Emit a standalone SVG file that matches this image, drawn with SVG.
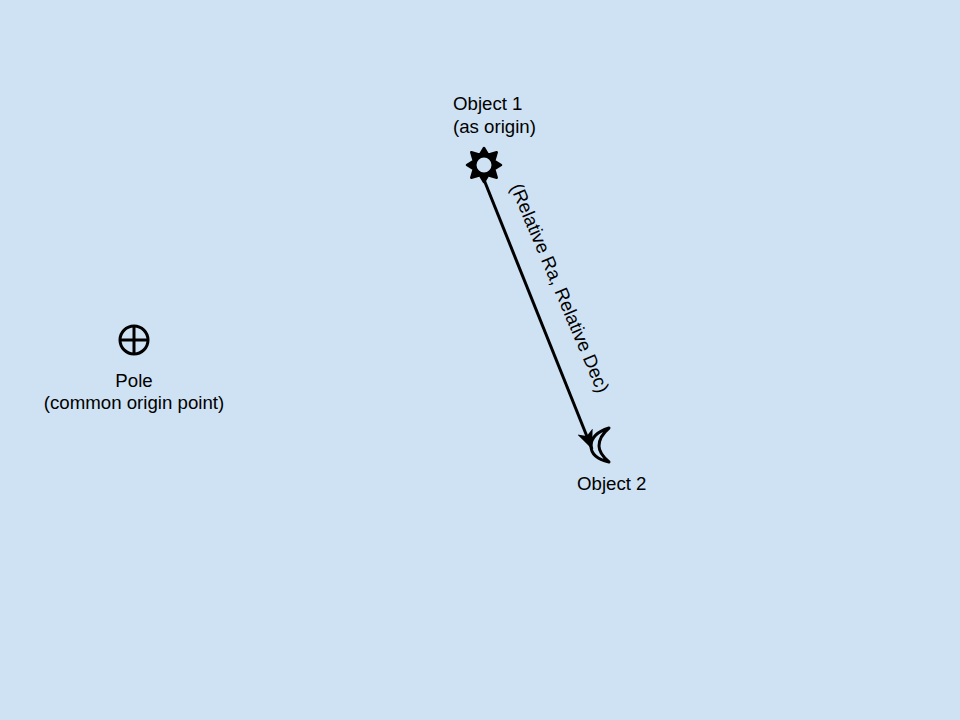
<svg xmlns="http://www.w3.org/2000/svg" width="960" height="720" viewBox="0 0 960 720">
<defs>
<style>
text{font-family:"Liberation Sans",Arial,sans-serif;font-size:18.67px;fill:#000}
.s{stroke:#000;fill:none;stroke-width:3}
</style>
<marker id="arr" markerUnits="userSpaceOnUse" markerWidth="20" markerHeight="20" refX="16" refY="7" orient="auto" viewBox="0 0 17 14"><path d="M0 0L16 7L0 14L4 7Z" fill="#000"/></marker>
</defs>
<rect width="960" height="720" fill="#cfe2f3"/>
<g id="pole">
<circle class="s" cx="134" cy="340" r="14"/>
<path class="s" d="M120 340H148M134 326V354"/>
<text x="134" y="387" text-anchor="middle">Pole</text>
<text x="134" y="409" text-anchor="middle">(common origin point)</text>
</g>
<g id="object1">
<path d="M484 148L488.200 154.800L496.700 152.300L494.200 160.800L501 165L494.200 169.200L496.700 177.700L488.200 175.200L484 182L479.800 175.200L471.300 177.700L473.800 169.200L467 165L473.800 160.800L471.300 152.300L479.800 154.800Z" fill="#000" stroke="#000" stroke-width="2.500" stroke-linejoin="round"/>
<circle cx="484" cy="165" r="9" fill="#cfe2f3" stroke="#000" stroke-width="3"/>
<text x="453" y="110">Object 1</text>
<text x="453" y="133">(as origin)</text>
</g>
<g id="object2">
<path d="M609 428C596 432 591 439 591 446C591 453 596 459 609 462C602 456 599 451 599 446C599 440 602 434 609 428Z" fill="#cfe2f3" stroke="#000" stroke-width="3" stroke-linejoin="round"/>
<text x="577" y="490">Object 2</text>
</g>
<g id="connectors">
<line x1="482.500" y1="176" x2="592" y2="449" stroke="#000" stroke-width="3" marker-end="url(#arr)"/>
</g>
<g id="label">
<text transform="translate(510 187) rotate(67)">(Relative Ra, Relative Dec)</text>
</g>
</svg>
